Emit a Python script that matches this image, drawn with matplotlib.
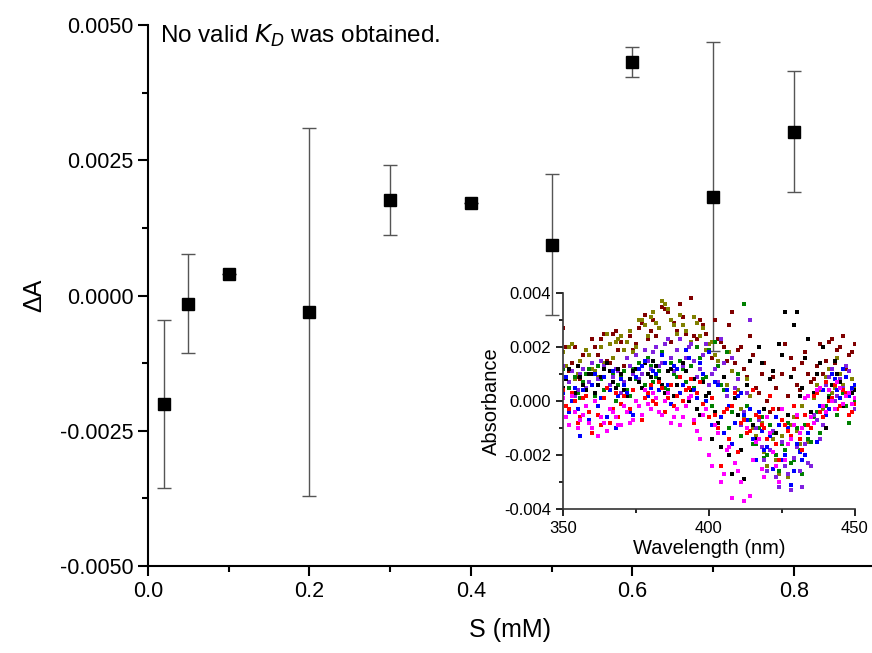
import numpy as np
import matplotlib
matplotlib.use('Agg')
import matplotlib.pyplot as plt
from matplotlib.ticker import MultipleLocator, FormatStrFormatter

plt.rcParams['font.family'] = ['Liberation Sans', 'DejaVu Sans']

# main titration data
conc = [0.02, 0.05, 0.1, 0.2, 0.3, 0.4, 0.5, 0.6, 0.7, 0.8]
dA = [-0.0020, -0.00015, 0.00040, -0.00030, 0.00177, 0.00171, 0.00094, 0.00432, 0.00183, 0.00303]
dA_err = [0.00155, 0.00092, 0.0, 0.00340, 0.00065, 0.0, 0.00130, 0.00028, 0.00285, 0.00112]

# inset spectra (absorbance in units of 1e-3)
# even wavelengths 350..450 and odd wavelengths 351..449
wl_even = np.arange(350, 451, 2)
wl_odd = np.arange(351, 450, 2)

wine_even = [2.7, 1.1, 2.0, 0.8, 1.9, 2.3, 1.7, 2.5, 1.4, 2.6, 2.2, 1.6, 1.9, 2.7, 3.2, 2.6, 2.4,
             3.5, 3.3, 2.9, 3.6, 2.5, 3.8, 2.3, 2.8, 1.8, 3.0, 2.2, 1.5, 3.3, 1.9, 1.2, 2.4, 0.5,
             1.0, 0.0, 0.9, -0.3, 2.1, 1.6, 0.6, 1.4, 1.0, 0.8, 2.1, 1.5, 2.3, 1.9, 2.4, 1.7, 2.1]
wine_odd = [2.0, 1.4, 0.9, 1.7, 1.2, 2.0, 2.3, 1.5, 2.5, 1.9,
            1.3, 2.4, 2.1, 2.9, 2.3, 3.0, 2.7, 3.4, 2.2, 2.6,
            3.1, 2.0, 2.4, 3.0, 2.5, 1.6, 2.3, 2.0, 2.8, 1.4,
            2.0, 0.9, 1.7, 0.3, 1.4, -0.4, 0.5, 1.0, 0.2, 1.2,
            0.4, 1.8, 0.7, 1.3, 1.0, 2.2, 1.4, 2.0, 1.2, 1.8]

olive_even = [1.8, 2.0, 0.8, 1.5, 1.9, 1.2, 0.9, 1.4, 2.1, 2.2, 2.4, 2.2, 1.8, 3.0, 2.8, 3.1, 2.9,
              3.7, 3.4, 2.8, 3.2, 2.6, 2.2, 2.9, 2.7, 2.1, 1.7, 2.3, 0.6, 1.1, 0.4, -0.6, 0.2, -1.3,
              -0.8, -2.4, -1.4, -2.7, -1.8, -0.9, -1.1, -0.2, -1.5, 0.1, 0.4, 0.9, 0.3, 1.6, 0.6, 1.1, 0.5]
olive_odd = [1.3, 2.1, 1.0, 0.6, 1.7, 1.1, 2.0, 2.5, 1.6, 2.3,
             1.9, 2.6, 2.0, 3.0, 2.4, 3.3, 2.7, 3.6, 3.0, 2.5,
             2.8, 2.0, 3.1, 2.4, 1.9, 2.2, 1.5, 0.9, 1.8, 0.1,
             -0.3, 0.8, -1.0, -0.4, -1.9, -0.9, -2.2, -1.3, -2.8, -0.6,
             -1.6, -0.5, -1.0, 0.6, -0.3, 1.2, 0.5, 1.0, 0.2, 0.8]

black_even = [0.5, 1.2, 0.3, 0.9, 0.4, 1.0, 0.6, 1.2, 1.1, 0.5, 1.0, 0.2, 1.1, 0.7, 1.4, 0.9, 1.3,
              0.6, 1.1, 0.2, 0.9, 1.1, 0.4, -0.3, 0.7, 0.3, -0.4, -1.7, 0.4, -2.7, -0.5, -2.9, 1.5, -1.4,
              1.4, -0.6, 1.1, 2.1, 3.3, 0.9, 3.3, 0.5, 2.3, 0.3, 1.4, -1.0, 0.6, 1.0, -0.2, 0.2, 0.4]
black_odd = [0.8, 0.2, 1.3, 0.6, 1.0, 0.3, 0.9, 1.4, 0.7, 1.2,
             0.4, 0.8, 1.2, 0.5, 1.0, 1.5, 0.8, 0.3, 1.2, 0.6,
             1.4, 0.0, 0.8, -0.5, 0.2, -1.4, -0.8, 0.9, -2.0, 0.1,
             -1.8, 0.6, -0.9, 2.0, -0.3, 0.8, -1.2, 1.7, -0.5, 2.8,
             0.2, 1.6, -0.4, 1.0, 2.0, 0.1, 1.5, 0.7, 0.9, 0.3]

red_even = [0.4, -0.3, 0.0, -0.6, 0.2, -1.2, -0.5, 0.1, -0.8, 0.3, -0.1, -0.4, 0.4, -0.2, 0.1, 0.6, -0.1,
            0.5, 0.1, -0.2, 0.9, 0.4, 0.8, 0.3, -0.1, -0.6, -0.5, -2.4, -0.3, -0.2, -1.9, -0.7, -1.1, -0.5,
            -0.9, -1.4, -0.3, -2.2, -0.9, -1.3, -0.6, -1.8, -0.9, 0.2, -0.4, 0.7, 0.1, -0.3, 0.4, -0.5, -0.1]
red_odd = [-0.2, 0.3, -0.8, 0.1, -0.4, 0.0, -0.9, 0.5, -0.3, -0.6,
           0.2, -0.3, 0.0, -0.7, 0.3, 0.0, 0.7, -0.4, 0.6, 0.2,
           0.0, 0.5, -0.8, 0.7, -0.3, 0.1, -1.0, -0.4, -1.4, 0.3,
           -0.8, -1.2, 0.4, -0.6, -1.0, 0.2, -1.6, -0.7, -1.1, -0.2,
           -1.4, -0.5, -1.0, 0.3, -0.6, 0.0, 0.6, -0.2, 0.3, -0.4]

blue_even = [0.3, -0.4, 0.5, -1.3, 0.2, 0.6, -0.2, 0.9, 0.4, -1.0, 0.8, 0.3, -0.5, 1.2, 1.5, 0.5, 1.0,
             1.7, 0.6, 1.3, 0.3, 1.9, 0.8, 0.1, 1.0, 1.8, 0.7, -0.6, 0.4, -1.6, 0.2, -0.5, -0.3, -2.2,
             -1.1, -1.7, -2.5, -0.9, -2.0, -3.1, -1.6, -2.2, -1.2, -0.8, -0.2, -0.5, 1.0, 0.4, 1.2, 0.2, 0.6]
blue_odd = [0.9, 0.0, -0.3, 0.4, -0.7, 1.0, 0.1, -0.6, 1.1, 0.2,
            0.6, -0.4, 0.9, 1.3, 0.2, 1.1, 0.4, 1.4, -0.1, 1.2,
            0.6, 1.6, 0.4, 1.4, 0.0, -0.9, 0.6, -1.2, -0.2, -0.8,
            0.3, -0.7, -1.4, -0.4, -1.8, -1.3, -0.6, -2.2, -1.0, -2.6,
            -1.9, -2.0, -1.0, -1.5, 0.4, -0.3, 0.8, 0.1, 0.9, 0.5]

magenta_even = [0.1, -0.9, -0.4, -0.7, -0.2, -1.0, -1.3, -0.8, -0.3, -0.6, -0.9, -0.4, -0.7, -0.2, 0.4,
                -0.3, 0.1, -0.5, 0.3, -0.6, -0.9, -0.2, 0.2, -1.1, -0.5, -2.0, -0.9, -3.0, -1.8, -3.6,
                -2.6, -3.7, -3.5, -1.5, -2.5, -0.6, -1.9, -3.0, -2.2, -1.4, -0.5, -1.0, 0.2, -0.8, 0.5,
                -0.4, 0.0, 0.7, -0.1, 0.3, 0.1]
magenta_odd = [-0.6, 0.2, -1.0, -0.5, -0.8, 0.0, -0.6, -1.1, -0.4, -0.9,
               -0.2, -0.8, 0.0, -0.5, -0.1, 0.3, -0.4, 0.0, -0.8, -0.3,
               -0.6, 0.1, -0.7, -1.4, -0.3, -2.4, -1.2, -2.7, -1.7, -2.3,
               -3.0, -1.0, -2.2, -1.4, -2.8, -1.2, -2.4, -0.3, -1.6, -0.9,
               -1.2, 0.1, -0.6, 0.4, -0.2, 0.4, -0.3, 0.5, 0.2, -0.1]

green_even = [1.2, 0.5, 0.9, 0.1, 1.0, 0.6, 1.3, 0.4, 1.1, 0.0, 0.9, 0.4, 1.2, 1.4, 0.6, 1.3, 0.9,
              1.8, 0.4, 1.0, 1.5, 0.7, 1.3, 2.0, 0.8, 1.9, 2.2, 0.6, 1.8, -0.4, 1.0, 3.6, -0.7, -1.6,
              -0.6, -2.0, -1.2, -2.6, -1.8, -2.3, -1.0, -2.7, -1.4, -0.6, -1.2, -0.2, 0.1, -0.5, 0.3, -0.8, 0.0]
green_odd = [0.8, 1.1, 0.3, 0.7, 1.2, 0.2, 0.8, 0.5, 1.0, 0.6,
             1.1, 0.2, 0.8, 1.0, 1.6, 0.7, 1.1, 0.5, 1.4, 0.9,
             1.2, 2.0, 0.5, 1.6, 0.9, -0.2, 1.3, 0.4, -1.0, 0.1,
             -1.3, -0.2, -1.6, -1.0, -2.1, -0.9, -2.0, -1.6, -0.8, -2.2,
             -1.8, -0.9, -1.5, -0.4, -0.9, 0.2, -0.3, 0.5, -0.2, 0.3]

purple_even = [1.3, 0.7, 0.2, 1.0, 0.5, 1.4, 0.8, 1.3, 0.6, 1.2, 0.3, 1.6, 1.0, 0.8, 1.9, 1.2, 2.0,
               1.4, 2.3, 1.1, 2.3, 1.6, 2.1, 0.9, 1.7, 0.6, 1.2, 2.3, 0.2, 1.6, 0.8, -0.4, 3.0, -1.0,
               -1.7, -2.6, -1.1, -3.2, -2.4, -3.3, -1.7, -3.2, -2.3, -0.5, -1.4, 0.6, 1.2, 0.2, 0.5, 1.1, -0.3]
purple_odd = [0.9, 1.1, 0.4, 1.2, 0.7, 1.0, 1.5, 0.5, 0.9, 1.1,
              0.7, 1.3, 1.7, 1.0, 1.5, 1.8, 1.3, 2.1, 1.6, 1.9,
              1.3, 2.0, 1.5, 1.2, 2.1, 1.0, 0.7, 1.4, -0.2, 0.5,
              -0.9, 0.3, -1.4, -0.7, -2.2, -1.8, -2.8, -1.5, -2.7, -2.1,
              -2.6, -1.6, -2.4, -0.7, -0.9, 0.9, 0.0, 0.8, 1.3, 0.4]

spectra = [(wine_even, wine_odd, '#800000'), (olive_even, olive_odd, '#808000'),
           (green_even, green_odd, '#008000'), (purple_even, purple_odd, '#8020E0'),
           (black_even, black_odd, '#000000'), (blue_even, blue_odd, '#0000FF'),
           (red_even, red_odd, '#FF0000'), (magenta_even, magenta_odd, '#FF00FF')]

fig = plt.figure(figsize=(8.72, 6.53), dpi=100)
ax = fig.add_axes([0.1697, 0.1332, 0.8303, 0.8285])

ax.errorbar(conc, dA, yerr=dA_err, fmt='s', color='black', markersize=8.5,
            ecolor='#555555', elinewidth=1, capsize=5, capthick=1)

ax.set_xlim(0, 0.8966)
ax.set_ylim(-0.005, 0.005)
ax.xaxis.set_major_locator(MultipleLocator(0.2))
ax.xaxis.set_minor_locator(MultipleLocator(0.1))
ax.yaxis.set_major_locator(MultipleLocator(0.0025))
ax.yaxis.set_minor_locator(MultipleLocator(0.00125))
ax.xaxis.set_major_formatter(FormatStrFormatter('%.1f'))
ax.yaxis.set_major_formatter(FormatStrFormatter('%.4f'))
for s in ['top', 'right']:
    ax.spines[s].set_visible(False)
for s in ['left', 'bottom']:
    ax.spines[s].set_linewidth(1.5)
ax.tick_params(which='major', direction='out', length=7, width=1.5, labelsize=15.5)
ax.tick_params(which='minor', direction='out', length=4, width=1.5)
ax.set_xlabel('S (mM)', fontsize=18, labelpad=12)
ax.set_ylabel('ΔA', fontsize=18, labelpad=10)

ax.text(0.0166, 0.967, 'No valid $K_D$ was obtained.', transform=ax.transAxes,
        fontsize=17.5, va='baseline', ha='left')

# inset
axi = fig.add_axes([0.6456, 0.2205, 0.3349, 0.3308])
axi.patch.set_alpha(0)
for ev, od, c in spectra:
    axi.scatter(wl_even, np.array(ev) * 1e-3, s=5, marker='s', color=c, linewidths=0)
    axi.scatter(wl_odd, np.array(od) * 1e-3, s=5, marker='s', color=c, linewidths=0)
axi.set_xlim(350, 450)
axi.set_ylim(-0.004, 0.004)
axi.xaxis.set_major_locator(MultipleLocator(50))
axi.xaxis.set_minor_locator(MultipleLocator(25))
axi.yaxis.set_major_locator(MultipleLocator(0.002))
axi.yaxis.set_minor_locator(MultipleLocator(0.001))
axi.yaxis.set_major_formatter(FormatStrFormatter('%.3f'))
for s in ['top', 'right']:
    axi.spines[s].set_visible(False)
for s in ['left', 'bottom']:
    axi.spines[s].set_linewidth(1.2)
    axi.spines[s].set_color('#333333')
axi.tick_params(which='major', direction='out', length=5, width=1.2, labelsize=12)
axi.tick_params(which='minor', direction='out', length=3, width=1.2)
axi.set_xlabel('Wavelength (nm)', fontsize=14.5, labelpad=2)
axi.set_ylabel('Absorbance', fontsize=14.5, labelpad=2)

fig.savefig('out.png', dpi=100)
